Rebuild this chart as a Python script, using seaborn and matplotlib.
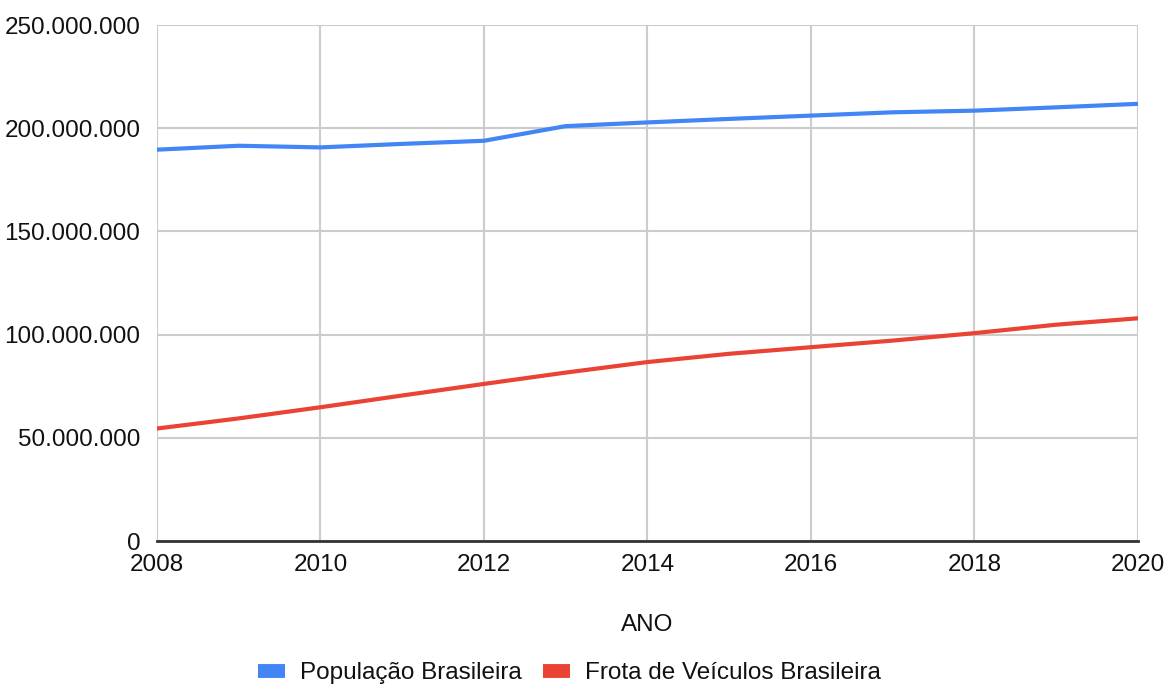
import numpy as np
import pandas as pd
import matplotlib
matplotlib.use("Agg")
import matplotlib.pyplot as plt
from matplotlib.lines import Line2D
from matplotlib.ticker import FuncFormatter, MultipleLocator
import seaborn as sns


anos = [2008, 2009, 2010, 2011, 2012, 2013, 2014, 2015, 2016, 2017, 2018, 2019, 2020]
populacao = [189.6e6, 191.5e6, 190.7e6, 192.4e6, 193.9e6, 201.0e6, 202.8e6,
             204.5e6, 206.1e6, 207.7e6, 208.5e6, 210.1e6, 211.8e6]
frota = [54.5e6, 59.4e6, 64.8e6, 70.5e6, 76.1e6, 81.6e6, 86.7e6,
         90.7e6, 93.9e6, 97.1e6, 100.7e6, 104.8e6, 107.9e6]

series_names = ["População Brasileira", "Frota de Veículos Brasileira"]
series_colors = ["#4285F4", "#EA4335"]

df = pd.DataFrame({"ANO": anos, series_names[0]: populacao, series_names[1]: frota})
long = df.melt(id_vars="ANO", var_name="serie", value_name="valor")

sns.set_theme(style="white")
plt.rcParams["font.family"] = ["Liberation Sans", "DejaVu Sans"]

TXT = "#111111"
FS = 17.5

fig = plt.figure(figsize=(11.67, 6.85), dpi=100)
ax = fig.add_axes([0.1345, 0.2102, 0.8405, 0.7533])

sns.lineplot(
    data=long,
    x="ANO",
    y="valor",
    hue="serie",
    hue_order=series_names,
    palette=series_colors,
    linewidth=3,
    legend=False,
    ax=ax,
)

ax.set_xlim(2008, 2020)
ax.set_ylim(0, 250e6)
ax.xaxis.set_major_locator(MultipleLocator(2))
ax.yaxis.set_major_locator(MultipleLocator(50e6))
ax.yaxis.set_major_formatter(FuncFormatter(lambda v, _: f"{int(v):,}".replace(",", ".")))

ax.grid(True, color="#cccccc", linewidth=1.5)
ax.set_axisbelow(True)
for side in ["top", "right", "left"]:
    ax.spines[side].set_visible(False)
ax.spines["bottom"].set_color("#333333")
ax.spines["bottom"].set_linewidth(2)

ax.tick_params(axis="both", length=0, labelsize=FS, colors=TXT)
ax.tick_params(axis="x", pad=9)
ax.tick_params(axis="y", pad=12)

ax.set_xlabel("ANO", fontsize=FS, color=TXT, labelpad=28)
ax.set_ylabel("")

handles = [Line2D([0], [0], color=c, lw=10, solid_capstyle="butt") for c in series_colors]
fig.legend(
    handles,
    series_names,
    loc="center",
    bbox_to_anchor=(0.488, 0.0175),
    ncol=2,
    frameon=False,
    fontsize=FS,
    handlelength=1.1,
    handletextpad=0.6,
    columnspacing=0.9,
    labelcolor=TXT,
)

fig.savefig("out.png", dpi=100)
plt.close(fig)
